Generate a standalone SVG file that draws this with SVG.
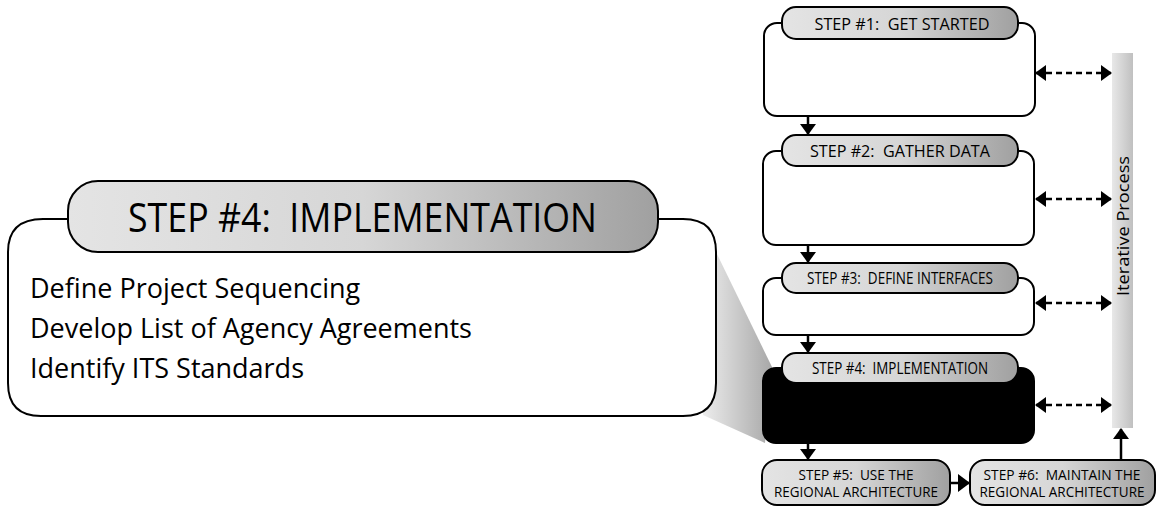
<svg xmlns="http://www.w3.org/2000/svg" width="1157" height="508" viewBox="0 0 1157 508" xml:space="preserve">
<style>
text{white-space:pre}
.box{fill:#fff;stroke:#000;stroke-width:2}
.pill{fill:url(#pg);stroke:#000;stroke-width:2}
.pt{font-family:"Open Sans","Liberation Sans",sans-serif;font-size:16px;fill:#000;text-anchor:middle}
.pt2{font-family:"Open Sans","Liberation Sans",sans-serif;font-size:14px;fill:#000;text-anchor:middle}
.body{font-family:"Open Sans","Liberation Sans",sans-serif;font-size:27px;fill:#000}
.conn{stroke:#000;stroke-width:2.5;fill:none}
.dash{stroke:#000;stroke-width:2.5;fill:none;stroke-dasharray:6 4}
</style>
<defs>
<linearGradient id="pg" x1="0" y1="0" x2="1" y2="0">
<stop offset="0" stop-color="#e4e4e4"/>
<stop offset="0.5" stop-color="#d6d6d6"/>
<stop offset="1" stop-color="#a0a0a0"/>
</linearGradient>
<linearGradient id="bg" x1="0" y1="0" x2="1" y2="0">
<stop offset="0" stop-color="#e8e8e8"/>
<stop offset="1" stop-color="#c0c0c0"/>
</linearGradient>
<linearGradient id="wg" x1="0" y1="0" x2="1" y2="0">
<stop offset="0" stop-color="#ececec"/>
<stop offset="1" stop-color="#a8a8a8"/>
</linearGradient>
<marker id="ah" viewBox="0 0 11 16" refX="10" refY="8" markerWidth="11" markerHeight="16" markerUnits="userSpaceOnUse" orient="auto-start-reverse">
<path d="M0,0 L11,8 L0,16 Z" fill="#000"/>
</marker>
<marker id="ahb" viewBox="0 0 12 18" refX="11" refY="9" markerWidth="12" markerHeight="18" markerUnits="userSpaceOnUse" orient="auto">
<path d="M0,0 L12,9 L0,18 Z" fill="#000"/>
</marker>
</defs>

<g id="wedge">
<polygon points="716,252 772,367 765,443 703,415" fill="url(#wg)"/>
</g>

<g id="callout">
<path class="box" d="M68,219 L43,219 Q8,219 8,252 L8,383 Q8,416 41,416 L683,416 Q716,416 716,383 L716,252 Q716,219 683,219 L658,219"/>
<rect class="pill" x="68" y="181" width="590" height="71" rx="30"/>
<text x="362.5" y="231.5" font-family="'Open Sans','Liberation Sans',sans-serif" font-size="41" text-anchor="middle" textLength="469" lengthAdjust="spacingAndGlyphs">STEP #4:  IMPLEMENTATION</text>
<text class="body" x="30" y="298">Define Project Sequencing</text>
<text class="body" x="30" y="338">Develop List of Agency Agreements</text>
<text class="body" x="30" y="378">Identify ITS Standards</text>
</g>

<g id="iterative">
<rect x="1112" y="53" width="21" height="375" fill="url(#bg)"/>
<text class="pt" transform="translate(1129,226) rotate(-90)" font-size="18" textLength="140" lengthAdjust="spacingAndGlyphs">Iterative Process</text>
</g>

<g id="step1">
<rect class="box" x="764" y="23" width="271" height="93" rx="13"/>
<rect class="pill" x="782" y="7" width="236" height="32" rx="14"/>
<text class="pt" x="902" y="29.5" font-size="18.5" textLength="175" lengthAdjust="spacingAndGlyphs">STEP #1:  GET STARTED</text>
</g>

<g id="step2">
<rect class="box" x="763" y="151" width="271" height="94" rx="13"/>
<rect class="pill" x="782" y="135" width="236" height="31" rx="14"/>
<text class="pt" x="900" y="157" font-size="18.5" textLength="180" lengthAdjust="spacingAndGlyphs">STEP #2:  GATHER DATA</text>
</g>

<g id="step3">
<rect class="box" x="763" y="278" width="271" height="57" rx="13"/>
<rect class="pill" x="782" y="263" width="236" height="30" rx="14"/>
<text class="pt" x="900" y="283.5" font-size="14.5" textLength="186" lengthAdjust="spacingAndGlyphs">STEP #3:  DEFINE INTERFACES</text>
</g>

<g id="step4">
<rect x="763" y="368" width="271" height="75" rx="13" fill="#000" stroke="#000" stroke-width="2"/>
<rect class="pill" x="782" y="353" width="236" height="30" rx="14"/>
<text class="pt" x="900" y="373.5" font-size="15" textLength="176" lengthAdjust="spacingAndGlyphs">STEP #4:  IMPLEMENTATION</text>
</g>

<g id="step5">
<rect class="pill" x="762" y="460" width="188" height="45" rx="15"/>
<text class="pt2" x="856" y="480" textLength="115" lengthAdjust="spacingAndGlyphs">STEP #5:  USE THE</text>
<text class="pt2" x="856" y="497" textLength="164" lengthAdjust="spacingAndGlyphs">REGIONAL ARCHITECTURE</text>
</g>

<g id="step6">
<rect class="pill" x="970" y="460" width="185" height="45" rx="15"/>
<text class="pt2" x="1062" y="480" textLength="157" lengthAdjust="spacingAndGlyphs">STEP #6:  MAINTAIN THE</text>
<text class="pt2" x="1062" y="497" textLength="165" lengthAdjust="spacingAndGlyphs">REGIONAL ARCHITECTURE</text>
</g>

<g id="connectors">
<line class="conn" x1="808" y1="116" x2="808" y2="134" marker-end="url(#ah)"/>
<line class="conn" x1="808" y1="245" x2="808" y2="262" marker-end="url(#ah)"/>
<line class="conn" x1="808" y1="335" x2="808" y2="352" marker-end="url(#ah)"/>
<line class="conn" x1="808" y1="443" x2="808" y2="459" marker-end="url(#ah)"/>
<line class="dash" x1="1036" y1="73" x2="1111" y2="73" marker-start="url(#ah)" marker-end="url(#ah)"/>
<line class="dash" x1="1036" y1="199" x2="1111" y2="199" marker-start="url(#ah)" marker-end="url(#ah)"/>
<line class="dash" x1="1036" y1="303" x2="1111" y2="303" marker-start="url(#ah)" marker-end="url(#ah)"/>
<line class="dash" x1="1036" y1="405" x2="1111" y2="405" marker-start="url(#ah)" marker-end="url(#ah)"/>
<line class="conn" x1="951" y1="483" x2="969" y2="483" stroke-width="3" marker-end="url(#ahb)"/>
<line class="conn" x1="1121" y1="460" x2="1121" y2="429" marker-end="url(#ah)"/>
</g>
</svg>
